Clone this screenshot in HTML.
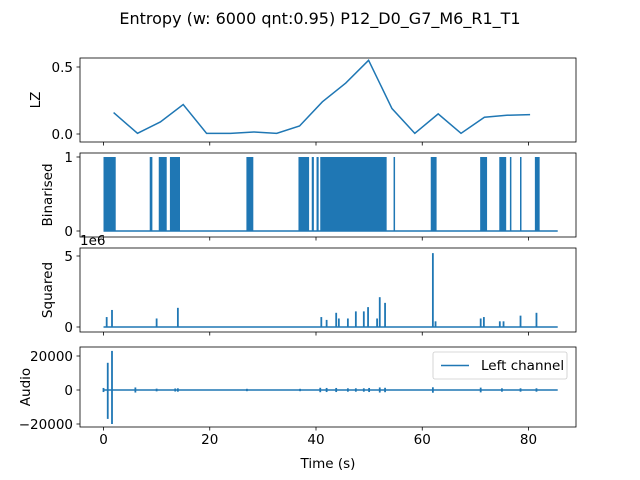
<!DOCTYPE html>
<html><head><meta charset="utf-8"><style>
body{margin:0;background:#fff}
svg{display:block;font-family:"DejaVu Sans","Liberation Sans",sans-serif}
</style></head><body>
<svg id="c" width="640" height="480" viewBox="0 0 640 480">
<text x="320" y="24" text-anchor="middle" font-size="16">Entropy (w: 6000 qnt:0.95) P12_D0_G7_M6_R1_T1</text>
</svg>
<script>
const lzTimes=[1.9,6.4,10.7,15.0,19.4,23.9,28.3,32.6,36.9,41.2,45.6,49.9,54.3,58.6,63.0,67.3,71.7,75.9,80.3];
const lzValues=[0.16,0.005,0.09,0.22,0.005,0.005,0.015,0.005,0.06,0.24,0.38,0.55,0.19,0.005,0.15,0.005,0.125,0.14,0.145];
const binStarts=[0,8.7,10.4,12.5,26.9,36.7,39.2,40.1,40.8,54.6,61.6,70.9,74.5,76.5,78.4,81.2];
const binEnds=[2.3,9.2,11.9,14.4,28.2,38.7,39.6,40.5,53.3,54.8,62.7,72.2,75.8,76.7,78.6,82.1];
const sqTimes=[0.6,1.6,10,14,41,42,43.8,44.3,46,47.5,49,49.8,51.5,52,53,62,62.5,71,71.6,74.6,75.3,78.5,81.5];
const sqValues=[0.7,1.2,0.6,1.35,0.7,0.5,1.0,0.6,0.6,1.1,1.1,1.4,0.6,2.1,1.7,5.2,0.4,0.6,0.7,0.4,0.4,0.8,1.0];
const audTimes=[0.8,1.6,0,6,10,13.5,14,27,37,40.8,42,43.8,46,47.5,49,50,52,53,62,71,75,78.5,81.5];
const audMax=[16000,23000,1200,1500,800,900,1000,700,700,1300,1200,1200,1000,1000,1000,1200,1500,1300,1600,1400,1000,1000,1000];
const audMin=[-17000,-20000,-1200,-1500,-800,-900,-1000,-700,-700,-1300,-1200,-1200,-1000,-1000,-1000,-1200,-1500,-1300,-1600,-1400,-1000,-1000,-1000];
const xTicks=[0,20,40,60,80];
const T_END=85.5;

const NS="http://www.w3.org/2000/svg",svg=document.getElementById('c');
const C="#1f77b4";
const X=t=>103.5+t*5.3125;
function el(tag,a,parent){const e=document.createElementNS(NS,tag);for(const k in a)e.setAttribute(k,a[k]);(parent||svg).appendChild(e);return e;}
function panel(name,top,bot,yfun,yt,ylabel,labelX,showX){
  const g=el('g',{});
  
  
  const fr=el('rect',{x:80,y:top,width:496,height:bot-top,fill:'none',stroke:'#000','stroke-width':0.8},g);
  
  
  xTicks.forEach(t=>{el('line',{x1:X(t),x2:X(t),y1:bot,y2:bot+3.5,stroke:'#000','stroke-width':0.8},g);
    if(showX){const tx=el('text',{x:X(t),y:bot+17,'text-anchor':'middle','font-size':13.5},g);tx.textContent=t;
      
      }});
  yt.forEach(([v,l])=>{const y=yfun(v);el('line',{x1:80,x2:76.5,y1:y,y2:y,stroke:'#000','stroke-width':0.8},g);
    const tx=el('text',{x:73,y:y+5,'text-anchor':'end','font-size':13.5},g);tx.textContent=l;
    
    });
  const yl=el('text',{x:labelX,y:(top+bot)/2,'text-anchor':'middle','font-size':13.5,transform:`rotate(-90 ${labelX} ${(top+bot)/2})`},g);
  yl.textContent=ylabel;
  
  
  return g;
}
// Panel 1
const Y1=v=>134-v*134+v*0; const y1=v=>134-(v/0.5)*67;
const g1=panel('lz',58,142,y1,[[0,'0.0'],[0.5,'0.5']],'LZ',40,false);
const p1=el('polyline',{points:lzTimes.map((t,i)=>X(t)+','+y1(lzValues[i])).join(' '),fill:'none',stroke:C,'stroke-width':1.5},g1);


// Panel 2
const y2=v=>231-v*74;
const g2=panel('binarised',153,237,y2,[[0,'0'],[1,'1']],'Binarised',52,false);
el('line',{x1:X(0),x2:X(T_END),y1:y2(0),y2:y2(0),stroke:C,'stroke-width':1.5},g2);
binStarts.forEach((s,i)=>{const w=Math.max(X(binEnds[i])-X(s),1.5);
  const r=el('rect',{x:X(s),y:y2(1),width:w,height:y2(0)-y2(1),fill:C},g2);
  
  });
// Panel 3
const y3=v=>327-v*14.2;
const g3=panel('squared',248,332,y3,[[0,'0'],[5,'5']],'Squared',52,false);
const oe=el('text',{x:80,y:245,'font-size':13.5},g3);oe.textContent='1e6';


el('line',{x1:X(0),x2:X(T_END),y1:y3(0),y2:y3(0),stroke:C,'stroke-width':1.5},g3);
sqTimes.forEach((t,i)=>{const l=el('line',{x1:X(t),x2:X(t),y1:y3(0),y2:y3(sqValues[i]),stroke:C,'stroke-width':1.8},g3);
  
  });
// Panel 4
const y4=v=>390-v*34/20000;
const g4=panel('audio',347,427,y4,[[20000,'20000'],[0,'0'],[-20000,'−20000']],'Audio',30,true);
el('line',{x1:X(0),x2:X(T_END),y1:y4(0),y2:y4(0),stroke:C,'stroke-width':1.5},g4);
audTimes.forEach((t,i)=>{const l=el('line',{x1:X(t),x2:X(t),y1:y4(audMin[i]),y2:y4(audMax[i]),stroke:C,'stroke-width':1.8},g4);
  
  });
const xl=el('text',{x:328,y:468,'text-anchor':'middle','font-size':13.5},g4);xl.textContent='Time (s)';


// legend
const lg=el('g',{},g4);


el('rect',{x:433,y:352,width:134,height:27,rx:2,fill:'#fff',stroke:'#ccc','stroke-width':0.8},lg);
el('line',{x1:441,x2:469,y1:365.5,y2:365.5,stroke:C,'stroke-width':1.5},lg);
const lt=el('text',{x:481,y:370,'font-size':13.5},lg);lt.textContent='Left channel';


</script>
</body></html>
